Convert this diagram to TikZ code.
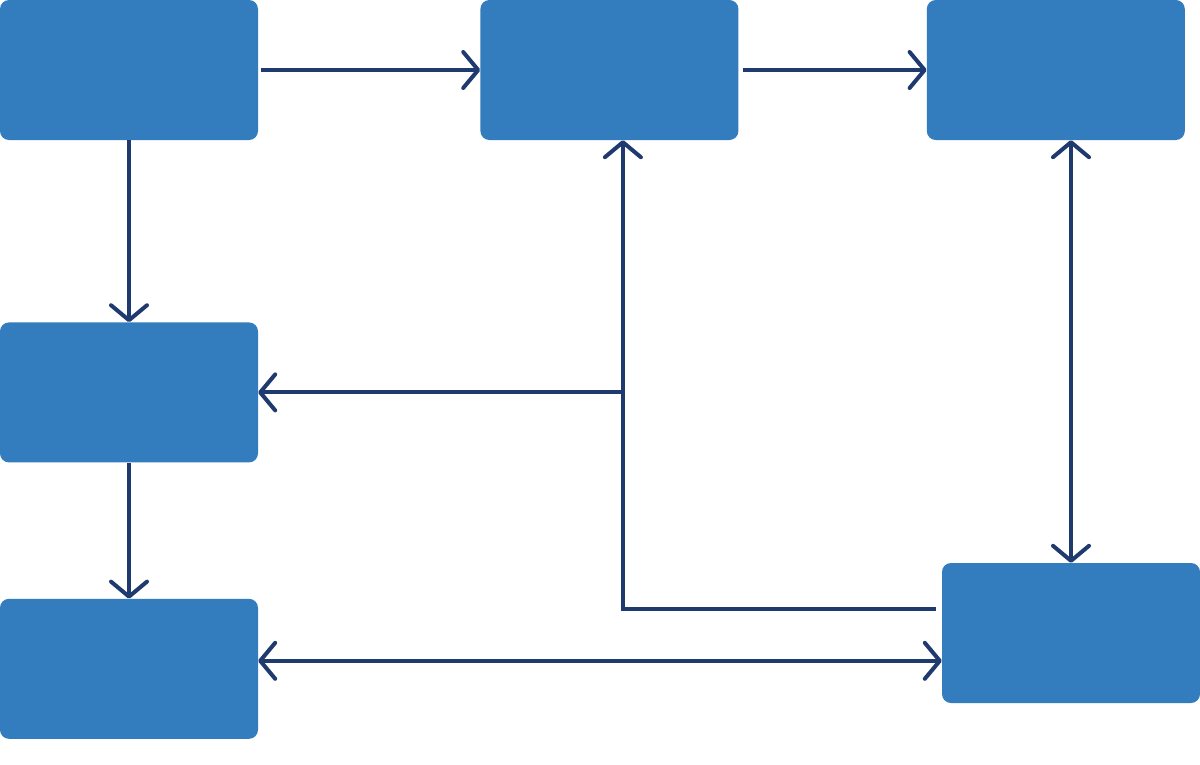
\documentclass[tikz,border=0pt]{standalone}
\usepackage{xcolor}
\usepackage{tikz}
\usetikzlibrary{positioning, arrows.meta, calc}

\definecolor{boxblue}{HTML}{337DBE}
\definecolor{linenavy}{HTML}{1F3A6E}

\begin{document}
\begin{tikzpicture}[
            x=1pt, y=-1pt,
            node distance=182pt,
            box/.style={rectangle, fill=boxblue, minimum width=258pt, minimum height=140pt, inner sep=0pt, rounded corners=9pt},
            arrow/.style={-{Straight Barb[round, length=15pt, width=36pt]}, line width=4pt, draw=linenavy},
            both/.style={arrow, {Straight Barb[round, length=15pt, width=36pt]}-{Straight Barb[round, length=15pt, width=36pt]}}
        ]
        \useasboundingbox[fill=white] (0,0) rectangle (1200,764);

        \node[box] (start) at (129,70) {};
        \node[box, right=222pt of start] (mid) {};
        \node[box, right=188pt of mid] (goal) {};
        \node[box, below=182pt of start] (left) {};
        \node[box, below=136pt of left] (base) {};
        \node[box] (side) at (1071,633) {};

        % join points
        \coordinate (midfoot) at ($(mid.south)+(13.5,0)$);
        \coordinate (sideout) at ($(side.west)+(-6,-24)$);
        \coordinate (baseout) at ($(base.east)+(0,-8)$);

        \draw[arrow, shorten <=3pt] (start) -- (mid);
        \draw[arrow, shorten <=4pt] (mid) -- (goal);
        \draw[arrow] (start) -- (left);
        \draw[arrow] (left) -- (base);
        \draw[both] (goal.south -| side.north) -- (side.north);
        \draw[arrow] (sideout) -| (midfoot);
        \draw[arrow] (midfoot |- left.east) -- (left.east);
        \draw[both] (baseout) -- (baseout -| side.west);
    \end{tikzpicture}
\end{document}
